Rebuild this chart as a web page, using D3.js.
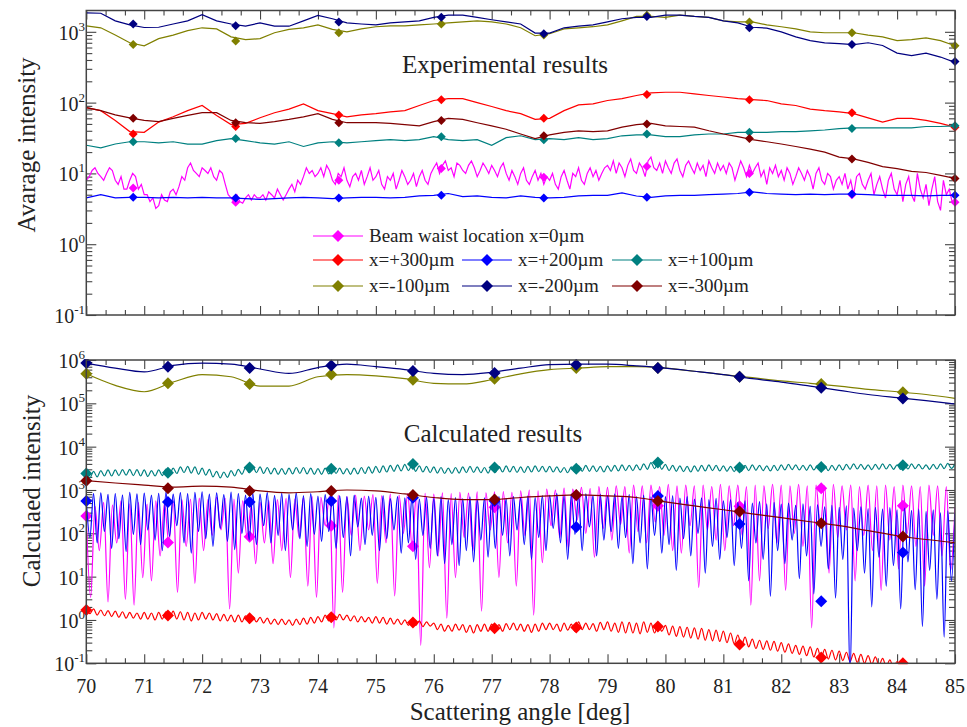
<!DOCTYPE html>
<html><head><meta charset="utf-8">
<script src="https://cdn.jsdelivr.net/npm/d3@7"></script>
<style>
body{margin:0;background:#fff}
text{font-family:"Liberation Serif","Times New Roman",serif;fill:#222}
</style></head>
<body><svg id="c" width="967" height="727"></svg>
<script>
// ---------- series meta ----------
const seriesNames  = ["Beam waist location x=0µm","x=+300µm","x=+200µm","x=+100µm","x=-100µm","x=-200µm","x=-300µm"];
const seriesColors = ["#ff00ff","#ff0000","#0000ff","#008080","#808000","#000080","#800000"];
const xTicks = [70,71,72,73,74,75,76,77,78,79,80,81,82,83,84,85];

// ---------- Experimental (top) : x from 70, step 0.25 deg ----------
const expStart = 70, expStep = 0.25;
const expRed = [85,77,56,39,38,53,63,77,91,66,49,51,61,72,81,96,77,70,63,67,70,74,77,91,107,114,114,100,88,77,70,58,60,77,93,96,107,114,126,137,140,140,133,126,120,114,110,107,96,91,81,77,74,70,61,53,60,60,56,51,45];
const expBlue = [4.5,5.0,4.5,4.6,4.6,4.5,4.6,4.5,4.6,4.5,4.5,4.4,4.3,4.4,4.5,4.6,4.5,4.4,4.5,4.6,4.6,4.5,4.6,4.8,4.9,5.2,4.7,4.8,4.6,4.5,4.8,4.6,4.5,4.6,4.8,4.9,4.9,5.3,4.8,4.6,4.8,4.9,4.9,5.0,5.1,5.2,5.5,5.2,5.1,5.0,5.1,5.0,5.1,5.1,5.0,4.9,4.9,4.9,4.8,4.9,4.9];
const expTeal = [25,23,26,28,28,27,28,26,26,29,31,29,27,26,28,24,27,28,27,28,29,30,29,30,33,30,29,30,25,32,34,30,31,30,32,30,31,34,35,35,33,33,35,36,36,38,38,38,39,39,40,41,43,44,44,44,44,44,46,46,47];
const expOlive = [1216,1140,900,700,635,800,900,1040,1140,1100,850,775,800,970,1080,1140,1250,1080,1000,1100,1180,1216,1216,1250,1290,1340,1380,1430,1380,1290,1140,880,940,1100,1140,1180,1250,1430,1650,1650,1600,1720,1650,1600,1430,1380,1380,1250,1180,1100,1000,970,970,970,900,850,750,775,820,750,635];
const expNavy = [1850,1830,1430,1250,1150,1160,1290,1430,1750,1430,1290,1200,1340,1200,1200,1430,1700,1530,1340,1290,1250,1340,1380,1430,1600,1720,1720,1600,1480,1380,1290,960,960,1140,1200,1250,1380,1530,1600,1600,1720,1720,1650,1600,1430,1340,1160,1130,1000,850,750,700,680,660,700,640,500,460,500,440,370];
const expDarkRed = [85,77,67,61,56,54,60,66,72,72,56,52,51,54,58,63,70,58,52,52,52,51,49,47,54,60,58,52,47,42,36,31,35,38,40,39,40,45,49,51,47,46,45,40,36,33,30,28,26,24,22,20,17,16,14.3,12.5,11.7,10.7,10.3,9.4,8.5];
// magenta (noisy) : step 0.05 deg
const expMagStep = 0.05;
const expMagenta = [
 8,9,11,12,10,9,8,10,12,11, 8,7,9,6,6,8,10,9,6,7,
 5,5,4,4.5,3.2,3.5,5,4.2,4,5.5, 6,5,6.5,9,8,12,14,11,10,9,
 12,11,10,12,9,8,11,10,7,5, 4.5,4,5,4,3.8,4.5,5,4.2,5,4.5,
 4.5,5,4.2,5.5,5,4.5,6,5,4.2,5, 6,7,5.5,8,7,9,12,10,11,9,
 10,12,9,13,11,8,7,10,9,12, 8,6.5,9,10,8,11,7,9,12,8,
 9,11,7,6,9,8,10,6,8,11, 9,7,8,10,6.5,9,11,8,7,10,
 12,14,10,13,15,11,12,9,14,13, 11,10,13,15,12,9,11,14,12,10,
 13,11,9,12,14,10,8,11,9,7, 10,12,8,7,9,11,8,10,7,9,
 8,10,7,6,9,11,8,6,10,9, 12,8,7,10,12,9,11,8,10,12,
 13,11,15,10,14,12,9,13,16,11, 10,14,12,9,15,17,12,11,14,10,
 15,12,10,14,16,11,9,13,15,12, 10,14,11,13,9,15,12,10,14,11,
 13,10,14,12,8,11,15,12,9,13, 10,12,14,9,11,7,12,10,13,9,
 11,8,12,10,7,9,12,10,8,11, 9,6,10,12,8,7,10,9,6,8,
 9,7,10,6,8,5,9,10,7,6, 8,10,5,7,9,6,4.5,8,10,6,
 5,8,4,7,9,5,4,10,6,4.5, 7,3.5,6,9,4,3,8,5,6,4,
 4];
// marker samples
const expMarkerX = [70.81,72.58,74.36,76.13,77.9,79.68,81.45,83.22,85.0];
const expMkMagenta = [6.2,3.9,8,11.7,8.8,12.5,10,5,3.9];
const expMkRed     = [36,46,67,110,60,130,110,72,45];
const expMkBlue    = [4.6,4.5,4.5,4.9,4.5,4.6,5.4,5.1,4.9];
const expMkTeal    = [28,31,27,33,30,36,38,43,47];
const expMkOlive   = [660,740,970,1290,900,1720,1380,970,635];
const expMkNavy    = [1290,1216,1380,1600,940,1650,1140,660,380];
const expMkDarkRed = [60,52,52,56,34,50,31,16,8.5];

// ---------- Calculated (bottom) ----------
const calcStart = 70;
// smooth curves, step 0.5 deg
const calcSmoothStep = 0.5;
const calcOlive = [4.8e5,2.6e5,1.85e5,3.1e5,4.6e5,4.1e5,2.5e5,2.5e5,4.1e5,4.6e5,4.3e5,3.7e5,2.9e5,2.8e5,3.5e5,4.8e5,6e5,6.5e5,7e5,7e5,6.5e5,5.5e5,4.6e5,3.9e5,3.3e5,2.9e5,2.5e5,2.1e5,1.85e5,1.6e5,1.3e5];
const calcNavy = [8.5e5,6.5e5,5.3e5,7.5e5,8.5e5,8e5,6.2e5,4.9e5,6.7e5,8e5,7e5,6e5,4.9e5,4.6e5,5.2e5,6.5e5,7.8e5,8e5,8e5,7.3e5,6.5e5,5.5e5,4.6e5,3.7e5,3.1e5,2.5e5,2e5,1.6e5,1.35e5,1.15e5,9.7e4];
const calcDarkRed = [1640,1450,1300,1170,1230,1170,950,860,910,1000,950,810,670,600,600,670,730,770,730,670,530,430,350,280,230,185,150,115,88,72,61];
// oscillating curves, step 0.0625 deg
const calcOscStep = 0.0625;
const calcBlue = [
 560,80,820,60,860,110,790,45,830,75,770,38,880,95,810,55,
 850,120,760,70,840,40,900,85,800,150,870,60,820,35,880,110,
 910,75,800,50,860,130,780,65,890,42,830,100,760,70,850,55,
 800,150,870,60,750,90,840,40,790,120,860,75,740,50,820,95,
 720,65,780,110,670,45,740,80,700,30,760,140,650,55,720,90,
 680,40,740,75,630,120,700,35,660,60,720,25,620,90,680,45,
 640,30,700,20,600,55,670,18,630,40,690,22,600,70,660,28,
 640,45,700,90,630,30,710,120,650,55,730,25,670,80,740,40,
 760,130,820,60,740,25,800,95,720,40,810,140,750,30,790,70,
 740,110,800,45,720,80,780,20,700,60,760,15,690,90,740,35,
 700,55,740,14,650,75,700,30,620,100,660,12,600,50,640,25,
 560,80,600,18,520,45,570,8,500,60,540,25,480,3.5,520,40,
 470,20,500,70,440,9,480,30,420,4,460,50,410,15,440,3.2,
 400,25,430,0.05,380,40,410,12,370,2,400,28,360,6,390,18,
 350,1.8,380,22,340,5,360,0.7,320,14,350,3,300,0.4,330,8,
 290];
const calcRed = [
 1.9,1.4,1.8,1.3,1.7,1.25,1.65,1.2,1.6,1.15,1.55,1.1,1.5,1.1,1.45,1.05,
 1.5,1.05,1.45,1.0,1.5,1.05,1.55,1.1,1.6,1.05,1.55,1.0,1.5,0.95,1.45,1.0,
 1.5,1.05,1.45,1.0,1.4,0.95,1.35,0.95,1.3,0.9,1.3,0.9,1.25,0.85,1.2,0.9,
 1.15,0.85,1.1,0.8,1.05,0.78,1.05,0.78,1.0,0.75,1.05,0.78,1.1,0.8,1.15,0.85,
 1.2,0.9,1.3,0.95,1.4,1.0,1.35,1.0,1.3,0.95,1.25,0.9,1.2,0.9,1.15,0.85,
 1.2,0.85,1.15,0.8,1.1,0.8,1.05,0.78,1.0,0.75,1.05,0.75,0.95,0.7,0.9,0.72,
 0.85,0.6,0.8,0.55,0.75,0.55,0.8,0.58,0.78,0.52,0.75,0.5,0.78,0.55,0.8,0.55,
 0.8,0.58,0.78,0.55,0.82,0.6,0.85,0.58,0.8,0.55,0.78,0.52,0.8,0.55,0.85,0.6,
 0.85,0.6,0.8,0.55,0.85,0.58,0.8,0.55,0.9,0.6,0.85,0.6,0.82,0.55,0.88,0.6,
 0.9,0.55,0.85,0.52,0.9,0.5,0.88,0.5,0.85,0.48,0.9,0.52,0.85,0.5,0.8,0.55,
 0.75,0.45,0.72,0.42,0.7,0.4,0.68,0.38,0.66,0.36,0.64,0.34,0.6,0.33,0.58,0.32,
 0.55,0.3,0.5,0.28,0.45,0.26,0.4,0.24,0.36,0.22,0.34,0.21,0.33,0.2,0.32,0.19,
 0.3,0.18,0.28,0.17,0.26,0.16,0.25,0.15,0.24,0.14,0.22,0.13,0.21,0.125,0.2,0.12,
 0.19,0.115,0.18,0.11,0.17,0.105,0.16,0.1,0.15,0.095,0.14,0.09,0.13,0.085,0.12,0.08,
 0.11,0.075,0.1,0.07,0.095,0.065,0.09,0.06,0.085,0.055,0.08,0.05,0.075,0.05,0.07,0.045,
 0.065];
const calcTeal = [
 2500,1900,2700,2000,2800,2100,2900,2100,2900,2150,2950,2200,3000,2150,2950,2100,
 2900,2050,2800,2100,2900,2150,3050,2300,3200,2400,3400,2500,3500,2450,3400,2300,
 3200,2200,3000,2000,2700,1900,2600,1950,2800,2100,3000,2300,3300,2500,3500,2500,
 3400,2400,3300,2350,3200,2300,3100,2300,3200,2350,3300,2400,3300,2350,3200,2300,
 3100,2300,3200,2350,3300,2400,3200,2350,3100,2300,3200,2350,3300,2400,3400,2450,
 3500,2500,3600,2600,3700,2700,3800,2750,3900,2800,3800,2700,3600,2600,3500,2500,
 3400,2450,3300,2400,3200,2400,3300,2450,3400,2500,3500,2550,3400,2500,3300,2450,
 3400,2500,3500,2600,3600,2600,3500,2550,3400,2500,3500,2600,3600,2650,3500,2600,
 3500,2600,3400,2550,3300,2500,3400,2600,3600,2700,3700,2700,3600,2650,3500,2600,
 3600,2700,3700,2750,3800,2800,3700,2800,3800,2900,4000,3000,4300,3100,4200,3000,
 3900,2800,3700,2700,3600,2650,3500,2600,3600,2700,3700,2750,3800,2800,3700,2750,
 3600,2700,3500,2650,3600,2700,3700,2800,3800,2850,3700,2800,3600,2750,3700,2800,
 3800,2900,3900,2950,3800,2900,3700,2850,3800,2900,3700,2850,3600,2800,3700,2850,
 3800,2900,3900,3000,4000,3050,3900,3000,3800,2950,3900,3000,4000,3050,3900,3000,
 3800,3000,3900,3050,4000,3100,3900,3050,3800,3000,3900,3050,4000,3100,4100,3150,
 4000];
// magenta, step 0.075 deg
const calcMagStep = 0.075;
const calcMagenta = [
 250,3.3,420,40,520,2.6,450,60,560,3,480,2.2,520,9.5,470,8,560,30,500,60,
 580,4.3,600,50,620,7,650,40,600,90,680,120,640,1.8,620,12,560,83,450,20,
 520,60,580,20,600,40,640,9.5,620,80,660,6,700,3.3,680,150,720,0.66,760,4.3,
 700,90,760,40,720,120,780,7,740,60,800,3.6,760,100,820,50,780,0.26,840,16,
 800,30,860,1.1,820,9.5,880,80,850,40,900,1.6,860,120,900,9.5,920,60,880,6,
 950,90,1000,1.3,960,21,1050,150,1000,80,1100,45,1050,200,1150,100,1080,28,1200,130,
 1150,70,1250,160,1200,35,1300,110,1250,60,1300,180,1200,90,1350,40,1250,35,1300,150,
 1250,5.6,1300,120,1200,70,1350,40,1250,150,1300,90,1200,2.2,1300,8,1250,130,1350,60,
 1300,4.8,1250,100,1350,50,1250,0.66,1300,150,1250,12,1350,80,1250,120,1300,8,1200,90,
 1300,40,1250,4.8,1300,70,1200,15,1300,100,1250,50,1200,6,1300,90,1250,30,1200,14,
 400];
const calcMarkerX = [70,71.41,72.82,74.23,75.64,77.05,78.46,79.87,81.28,82.69,84.1];
const calcMkMagenta = [250,61,83,150,50,400,750,430,420,1100,430];
const calcMkRed     = [1.7,1.27,1.09,1.15,0.88,0.64,0.67,0.71,0.27,0.137,0.1];
const calcMkBlue    = [560,530,530,560,660,560,140,730,165,2.7,36];
const calcMkTeal    = [2400,2500,3300,3100,4000,3300,3100,4300,3300,3400,3700];
const calcMkOlive   = [4.8e5,2.9e5,2.8e5,4.6e5,3.5e5,3.7e5,6.5e5,6.5e5,4.1e5,2.8e5,1.8e5];
const calcMkNavy    = [8.5e5,7e5,6.5e5,7.5e5,5.6e5,5e5,7.8e5,6.5e5,4.1e5,2.3e5,1.3e5];
const calcMkDarkRed = [1640,1100,950,950,770,600,770,560,320,170,84];

// ---------- drawing ----------
const svg = d3.select("#c");
const X0 = 86.3, X1 = 955;
const x = d3.scaleLinear().domain([70,85]).range([X0,X1]);
const yT = d3.scaleLog().domain([0.1,2000]).range([315,10.5]);
const yB = d3.scaleLog().domain([0.1,1e6]).range([663.3,360]);
const pts = (start, step, vals) => vals.map((v,i)=>[start+i*step, v]);
const defs = svg.append("defs");

function panel(id, y, decades, showXLabels, lines, mks, mkX, mkH){
  const [yb, yt] = y.range();
  defs.append("clipPath").attr("id",id+"L").append("rect").attr("x",X0).attr("y",yt).attr("width",X1-X0).attr("height",yb-yt);
  defs.append("clipPath").attr("id",id+"M").append("rect").attr("x",0).attr("y",yt-1).attr("width",967).attr("height",yb-yt+2);
  const g = svg.append("g");
  const minorY = [];
  decades.forEach(d=>{ for(let k=2;k<=9;k++){ const v=k*Math.pow(10,d); if(v<=y.domain()[1]) minorY.push(v);} });
  const majorY = decades.concat([decades[decades.length-1]+1]).map(d=>Math.pow(10,d)).filter(v=>v<=y.domain()[1]*1.0001);
  const minorX = d3.range(0,46).map(i=>70+i/3).filter((v,i)=>i%3!==0);
  const ax = [
    [d3.axisLeft(y).tickValues(majorY).tickSize(-10), X0, 0],
    [d3.axisLeft(y).tickValues(minorY).tickSize(-6), X0, 0],
    [d3.axisRight(y).tickValues(majorY).tickSize(-10), X1, 0],
    [d3.axisRight(y).tickValues(minorY).tickSize(-6), X1, 0],
    [d3.axisBottom(x).tickValues(xTicks).tickSize(-9), 0, yb],
    [d3.axisBottom(x).tickValues(minorX).tickSize(-5), 0, yb],
    [d3.axisTop(x).tickValues(xTicks).tickSize(-9), 0, yt],
    [d3.axisTop(x).tickValues(minorX).tickSize(-5), 0, yt]
  ];
  ax.forEach(([a,tx,ty])=>{
    const ag = g.append("g").attr("transform",`translate(${tx},${ty})`).call(a.tickFormat(()=>"").tickSizeOuter(0));
    ag.select(".domain").remove();
    ag.selectAll("line").attr("stroke","#444").attr("stroke-width",1.1);
  });
  majorY.forEach(v=>{
    const e = Math.round(Math.log10(v));
    const t = g.append("text").attr("x",85).attr("y",y(v)+8).attr("text-anchor","end").attr("font-size",20);
    t.append("tspan").text("10");
    t.append("tspan").attr("dy",-9).attr("font-size",13).text(String(e));
  });
  if(showXLabels){
    xTicks.forEach(v=>{
      g.append("text").attr("x",x(v)).attr("y",693).attr("text-anchor","middle").attr("font-size",20).text(v);
    });
  }
  lines.forEach((s,i)=>{
    const line = d3.line().x(d=>x(d[0])).y(d=>y(Math.max(d[1],1e-3))).curve(s.curve || d3.curveLinear);
    g.append("path").datum(s.data).attr("clip-path",`url(#${id}L)`)
      .attr("d",line).attr("fill","none").attr("stroke",seriesColors[i]).attr("stroke-width",1.2);
    const sym = d3.symbol(d3.symbolSquare, 2*mkH*mkH);
    g.append("g").attr("clip-path",`url(#${id}M)`).selectAll("path").data(mks[i]).join("path")
      .attr("d",sym).attr("transform",(v,j)=>`translate(${x(mkX[j])},${y(v)}) rotate(45)`)
      .attr("fill",seriesColors[i]);
  });
  g.append("rect").attr("x",X0).attr("y",yt).attr("width",X1-X0).attr("height",yb-yt)
    .attr("fill","none").attr("stroke","#444").attr("stroke-width",1.5);
}

panel("top", yT, [-1,0,1,2], false,
  [ {data:pts(expStart,expMagStep,expMagenta)},
    {data:pts(expStart,expStep,expRed)},
    {data:pts(expStart,expStep,expBlue)},
    {data:pts(expStart,expStep,expTeal)},
    {data:pts(expStart,expStep,expOlive)},
    {data:pts(expStart,expStep,expNavy)},
    {data:pts(expStart,expStep,expDarkRed)} ],
  [expMkMagenta,expMkRed,expMkBlue,expMkTeal,expMkOlive,expMkNavy,expMkDarkRed], expMarkerX, 4.5);

const mono = d3.curveMonotoneX;
panel("bot", yB, [-1,0,1,2,3,4,5], true,
  [ {data:pts(calcStart,calcMagStep,calcMagenta),curve:mono},
    {data:pts(calcStart,calcOscStep,calcRed),curve:mono},
    {data:pts(calcStart,calcOscStep,calcBlue),curve:mono},
    {data:pts(calcStart,calcOscStep,calcTeal),curve:mono},
    {data:pts(calcStart,calcSmoothStep,calcOlive),curve:mono},
    {data:pts(calcStart,calcSmoothStep,calcNavy),curve:mono},
    {data:pts(calcStart,calcSmoothStep,calcDarkRed),curve:mono} ],
  [calcMkMagenta,calcMkRed,calcMkBlue,calcMkTeal,calcMkOlive,calcMkNavy,calcMkDarkRed], calcMarkerX, 6);

// legend
const legendPos = [[313,236],[313,260],[462,260],[612,260],[313,286],[462,286],[612,286]];
const lg = svg.append("g");
seriesNames.forEach((n,i)=>{
  const [lx,ly] = legendPos[i];
  lg.append("line").attr("x1",lx).attr("x2",lx+50).attr("y1",ly).attr("y2",ly).attr("stroke",seriesColors[i]).attr("stroke-width",1.2);
  lg.append("path").attr("d",d3.symbol(d3.symbolSquare,2*6*6)).attr("transform",`translate(${lx+25},${ly}) rotate(45)`).attr("fill",seriesColors[i]);
  lg.append("text").attr("x",lx+56).attr("y",ly+6).attr("font-size",19).text(n);
});

// titles & axis labels
svg.append("text").attr("x",505).attr("y",73).attr("text-anchor","middle").attr("font-size",25).text("Experimental results");
svg.append("text").attr("x",493).attr("y",442).attr("text-anchor","middle").attr("font-size",25).text("Calculated results");
svg.append("text").attr("transform","translate(35,145) rotate(-90)").attr("text-anchor","middle").attr("font-size",25).text("Avarage intensity");
svg.append("text").attr("transform","translate(40,491) rotate(-90)").attr("text-anchor","middle").attr("font-size",25).text("Calculaed intensity");
svg.append("text").attr("x",520).attr("y",720).attr("text-anchor","middle").attr("font-size",25).text("Scattering angle [deg]");
</script></body></html>
